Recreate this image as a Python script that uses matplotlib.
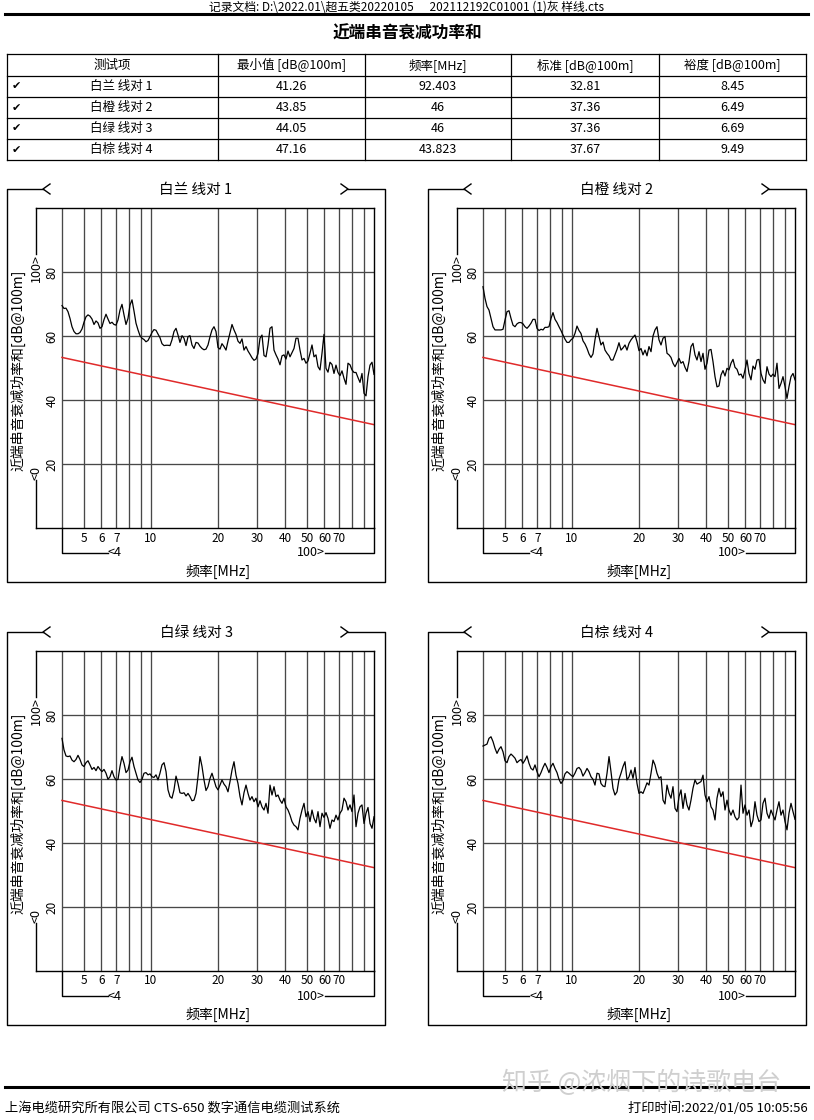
import numpy as np
import matplotlib.pyplot as plt
from matplotlib.transforms import blended_transform_factory

plt.rcParams['font.family'] = ['Noto Sans CJK SC', 'DejaVu Sans']

W, H = 814, 1120

# sweep frequencies [MHz], same for all pairs
freq = [4.000, 4.083, 4.168, 4.255, 4.344, 4.435, 4.527, 4.622, 4.718, 4.816,
        4.917, 5.019, 5.124, 5.231, 5.340, 5.451, 5.565, 5.681, 5.799, 5.920,
        6.043, 6.169, 6.298, 6.429, 6.563, 6.700, 6.840, 6.982, 7.128, 7.277,
        7.428, 7.583, 7.741, 7.903, 8.068, 8.236, 8.407, 8.583, 8.762, 8.944,
        9.131, 9.321, 9.515, 9.714, 9.916, 10.12, 10.33, 10.55, 10.77, 10.99,
        11.22, 11.46, 11.70, 11.94, 12.19, 12.44, 12.70, 12.97, 13.24, 13.51,
        13.80, 14.08, 14.38, 14.68, 14.98, 15.29, 15.61, 15.94, 16.27, 16.61,
        16.96, 17.31, 17.67, 18.04, 18.42, 18.80, 19.19, 19.59, 20.00, 20.42,
        20.84, 21.28, 21.72, 22.17, 22.64, 23.11, 23.59, 24.08, 24.58, 25.10,
        25.62, 26.15, 26.70, 27.26, 27.82, 28.40, 29.00, 29.60, 30.22, 30.85,
        31.49, 32.15, 32.82, 33.50, 34.20, 34.91, 35.64, 36.38, 37.14, 37.92,
        38.71, 39.51, 40.34, 41.18, 42.04, 42.91, 43.81, 44.72, 45.65, 46.60,
        47.58, 48.57, 49.58, 50.61, 51.67, 52.75, 53.85, 54.97, 56.12, 57.29,
        58.48, 59.70, 60.94, 62.21, 63.51, 64.83, 66.18, 67.56, 68.97, 70.41,
        71.88, 73.38, 74.91, 76.47, 78.06, 79.69, 81.35, 83.05, 84.78, 86.55,
        88.35, 90.20, 92.08, 94.00, 95.96, 97.96, 100.0]

# PSNEXT [dB@100m]
pair1 = [69.5, 68.6, 68.7, 67.6, 65.5, 62.9, 61.4, 60.7, 60.7, 61.1,
         62.2, 64.3, 66.0, 66.6, 66.2, 65.3, 63.6, 64.7, 64.1, 62.4,
         62.9, 65.1, 66.8, 65.3, 63.9, 64.3, 63.6, 63.4, 65.0, 68.1,
         69.9, 66.6, 63.6, 65.5, 69.7, 71.3, 67.8, 64.0, 61.9, 60.1,
         59.3, 58.9, 58.2, 58.6, 59.8, 61.1, 62.0, 61.8, 60.6, 59.5,
         57.6, 57.0, 57.1, 57.1, 57.0, 58.8, 61.4, 62.4, 60.3, 58.0,
         60.1, 59.3, 57.0, 59.8, 60.1, 57.2, 56.1, 58.0, 57.8, 56.8,
         56.1, 55.7, 55.9, 57.2, 59.8, 61.9, 62.9, 61.4, 56.4, 55.9,
         57.6, 56.7, 55.6, 58.4, 61.1, 63.6, 61.9, 60.5, 58.4, 57.7,
         59.1, 55.6, 56.7, 55.3, 54.3, 53.2, 52.4, 52.8, 54.5, 59.3,
         60.3, 53.9, 53.5, 57.2, 62.4, 62.9, 55.6, 54.1, 52.8, 51.0,
         53.8, 54.1, 52.8, 55.3, 53.5, 54.8, 56.1, 59.3, 59.3, 55.6,
         52.5, 53.0, 51.5, 52.2, 54.6, 57.2, 53.5, 54.1, 50.4, 49.4,
         54.6, 60.5, 49.9, 48.7, 51.8, 51.1, 48.3, 50.9, 48.6, 47.6,
         49.1, 46.8, 44.9, 51.5, 51.0, 49.4, 48.6, 48.6, 47.0, 45.5,
         48.3, 42.1, 41.3, 47.3, 50.9, 51.8, 48.0]

pair2 = [75.4, 71.8, 69.2, 68.1, 65.5, 62.9, 61.9, 61.9, 61.9, 61.9,
         62.1, 65.0, 67.6, 67.9, 65.5, 63.4, 62.9, 63.8, 64.2, 64.2,
         63.8, 62.9, 62.4, 63.1, 64.0, 65.2, 65.2, 62.4, 61.7, 62.1,
         61.9, 62.7, 62.7, 62.9, 65.5, 67.3, 65.2, 64.2, 62.9, 61.7,
         60.3, 59.0, 58.0, 58.0, 58.8, 59.3, 60.8, 63.1, 61.7, 60.8,
         58.5, 57.5, 56.1, 54.4, 53.3, 54.4, 58.8, 62.4, 59.8, 57.2,
         58.1, 55.6, 54.6, 53.8, 52.5, 52.5, 54.1, 55.8, 57.9, 55.6,
         56.3, 57.2, 55.6, 57.7, 58.8, 59.6, 60.3, 58.2, 55.4, 56.1,
         54.1, 55.6, 53.8, 56.7, 55.1, 60.0, 61.9, 62.9, 58.8, 57.2,
         59.3, 59.8, 54.6, 54.1, 53.3, 51.5, 50.4, 51.7, 53.0, 51.5,
         52.0, 50.2, 48.9, 52.0, 56.7, 57.7, 54.1, 52.5, 55.1, 52.0,
         54.6, 49.6, 51.5, 55.6, 55.8, 52.0, 47.3, 44.1, 44.4, 47.8,
         49.2, 47.5, 49.9, 49.4, 51.5, 52.7, 50.2, 49.6, 47.8, 48.1,
         46.8, 49.4, 52.5, 48.3, 46.3, 50.6, 49.6, 52.5, 52.7, 48.3,
         46.3, 45.2, 50.4, 48.1, 47.3, 48.1, 47.3, 51.5, 43.6, 45.2,
         47.3, 44.2, 40.5, 44.2, 47.3, 48.3, 46.3]

pair3 = [72.7, 69.1, 67.2, 67.0, 67.2, 65.9, 65.4, 66.1, 67.4, 66.1,
         64.4, 63.9, 65.1, 65.7, 64.4, 63.0, 63.6, 62.6, 63.9, 63.0,
         62.3, 63.0, 61.8, 59.9, 60.7, 62.6, 60.7, 59.7, 59.9, 63.9,
         67.0, 64.9, 62.0, 62.8, 65.4, 66.8, 63.9, 61.8, 59.7, 58.9,
         59.9, 61.8, 62.0, 61.3, 61.6, 60.7, 60.5, 61.3, 59.7, 61.8,
         64.4, 65.1, 62.3, 56.6, 54.5, 54.0, 56.6, 60.9, 58.6, 55.7,
         55.5, 55.7, 54.7, 55.5, 54.5, 53.2, 53.4, 55.5, 60.7, 67.0,
         63.9, 59.7, 56.4, 57.6, 60.2, 61.8, 59.7, 57.6, 56.6, 58.1,
         59.7, 58.4, 57.6, 56.0, 59.2, 62.8, 65.4, 61.2, 58.6, 54.5,
         51.9, 55.7, 58.1, 55.5, 53.4, 54.5, 52.9, 54.0, 51.3, 53.2,
         51.3, 50.3, 52.4, 49.3, 58.1, 55.0, 57.6, 54.5, 55.0, 53.4,
         52.4, 54.0, 51.3, 50.3, 48.7, 46.7, 45.6, 45.1, 44.1, 47.7,
         50.3, 52.4, 48.2, 49.8, 46.7, 50.3, 47.7, 46.3, 49.8, 45.1,
         49.3, 48.0, 49.5, 47.7, 44.6, 47.2, 46.7, 48.7, 47.2, 49.3,
         50.3, 54.0, 52.9, 50.3, 51.9, 49.8, 55.0, 45.1, 49.3, 51.3,
         51.9, 46.1, 49.3, 51.1, 46.1, 44.6, 48.2]

pair4 = [70.3, 70.6, 70.9, 72.7, 73.2, 71.7, 69.6, 68.0, 69.3, 70.1,
         68.5, 65.7, 65.1, 67.0, 67.8, 67.2, 66.5, 65.1, 65.7, 66.1,
         64.9, 65.9, 67.2, 64.9, 63.3, 62.8, 64.4, 62.3, 60.7, 62.0,
         63.6, 64.9, 63.6, 62.0, 63.9, 64.9, 63.3, 62.0, 59.9, 58.6,
         59.5, 61.6, 62.3, 61.8, 61.2, 60.7, 61.8, 63.3, 63.6, 62.8,
         60.9, 62.0, 63.3, 62.3, 60.7, 59.9, 58.1, 61.8, 61.6, 58.6,
         57.8, 57.6, 61.8, 67.0, 62.3, 57.1, 55.0, 56.0, 59.9, 61.8,
         63.9, 65.4, 59.7, 60.7, 62.8, 60.2, 63.6, 58.6, 55.5, 56.0,
         55.5, 57.1, 58.8, 58.1, 61.8, 65.9, 64.4, 61.8, 60.2, 60.7,
         53.4, 52.2, 58.1, 55.5, 54.0, 57.6, 50.8, 49.8, 54.5, 56.6,
         50.8, 55.5, 51.9, 50.3, 53.4, 57.1, 59.7, 58.4, 58.8, 59.2,
         61.2, 55.0, 52.9, 54.5, 51.3, 50.3, 47.2, 54.0, 57.1, 54.5,
         56.0, 50.3, 53.4, 50.3, 48.7, 50.3, 48.2, 47.2, 48.0, 58.1,
         49.3, 51.9, 48.7, 50.3, 45.1, 47.2, 52.9, 48.7, 46.7, 47.2,
         52.4, 54.0, 49.3, 47.7, 50.3, 48.7, 47.2, 50.3, 52.9, 48.7,
         50.3, 46.7, 44.1, 49.3, 52.4, 49.8, 47.4]

# limit line (standard)
limit_freq = [4, 100]
limit_db = [53.3, 32.3]

pair_names = ['白兰 线对 1', '白橙 线对 2', '白绿 线对 3', '白棕 线对 4']
headers = ['测试项', '最小值 [dB@100m]', '频率[MHz]', '标准 [dB@100m]', '裕度 [dB@100m]']
min_val = ['41.26', '43.85', '44.05', '47.16']
min_freq = ['92.403', '46', '46', '43.823']
std_val = ['32.81', '37.36', '37.36', '37.67']
margin = ['8.45', '6.49', '6.69', '9.49']

xtick_vals = [5, 6, 7, 10, 20, 30, 40, 50, 60, 70]
ytick_vals = [20, 40, 60, 80]
vgrid = [4, 5, 6, 7, 8, 9, 10, 20, 30, 40, 50, 60, 70, 80, 90]

fig = plt.figure(figsize=(W / 100, H / 100), dpi=100)
bg = fig.add_axes([0, 0, 1, 1])
bg.set_xlim(0, W)
bg.set_ylim(H, 0)
bg.axis('off')

# header
bg.text(407, 0.5, '记录文档: D:\\2022.01\\超五类20220105      202112192C01001 (1)灰 样线.cts',
        ha='center', va='top', fontsize=8.5)
bg.plot([5, 808], [14, 14], color='black', lw=2.2)
bg.text(407, 34, '近端串音衰减功率和', ha='center', va='center', fontsize=12, fontweight='bold')

# table
col_x = [7, 218, 365, 511, 659, 806]
row_y = [54, 76, 97, 118, 139, 160]
for y in row_y:
    bg.plot([7, 806], [y, y], color='black', lw=0.9)
for x in col_x:
    bg.plot([x, x], [54, 160], color='black', lw=0.9)
centers = [(col_x[i] + col_x[i + 1]) / 2 for i in range(5)]
for i, h in enumerate(headers):
    bg.text(centers[i], 65, h, ha='center', va='center', fontsize=9)
for r in range(4):
    yc = (row_y[r + 1] + row_y[r + 2]) / 2
    bg.text(16, yc, '✔', ha='center', va='center', fontsize=8, family='DejaVu Sans')
    bg.text(121, yc, pair_names[r], ha='center', va='center', fontsize=9)
    for i, v in enumerate([min_val[r], min_freq[r], std_val[r], margin[r]]):
        bg.text(centers[i + 1], yc, v, ha='center', va='center', fontsize=9)


def panel(ox, oy, title, values):
    L, R, T, B = 7 + ox, 385 + ox, 189 + oy, 582 + oy
    bg.plot([43 + ox, L, L, R, R, 348 + ox], [T, T, B, B, T, T], color='black', lw=1.0)
    bg.plot([50 + ox, 43 + ox, 50 + ox], [T - 5, T, T + 5], color='black', lw=1.0)
    bg.plot([341 + ox, 348 + ox, 341 + ox], [T - 5, T, T + 5], color='black', lw=1.0)
    bg.text((L + R) / 2, T + 1, title, ha='center', va='center', fontsize=10.5)

    al, ar, at, ab = 36 + ox, 374 + ox, 208 + oy, 528 + oy
    ax = fig.add_axes([al / W, 1 - ab / H, (ar - al) / W, (ab - at) / H])
    ax.set_xscale('log')
    xmin = 4 / (100 / 4) ** (26 / 312)
    ax.set_xlim(xmin, 100)
    ax.set_ylim(0, 100)
    ax.set_xticks([])
    ax.set_yticks([])
    ax.minorticks_off()
    ax.spines['left'].set_visible(False)
    for s in ['top', 'bottom', 'right']:
        ax.spines[s].set_linewidth(1.0)
    ax.patch.set_alpha(0)

    ax.vlines(vgrid, 0, 100, color='#484848', lw=0.95)
    ax.hlines(ytick_vals, 4, 100, color='#484848', lw=0.95)
    ax.plot(limit_freq, limit_db, color='#e02a2a', lw=1.1)
    ax.plot(freq, values, color='black', lw=0.9)

    pw, ph = ar - al, ab - at
    xb = blended_transform_factory(ax.transData, ax.transAxes)
    yb = blended_transform_factory(ax.transAxes, ax.transData)
    for v in xtick_vals:
        ax.text(v, -10 / ph, str(v), transform=xb, ha='center', va='center', fontsize=8.5)
    for v in ytick_vals:
        ax.text(16 / pw, v, str(v), transform=yb, rotation=90, ha='center', va='center', fontsize=8.5)

    # range marks on the left
    ax.plot([0, 0], [1, 274 / ph], transform=ax.transAxes, color='black', lw=1.0, clip_on=False)
    ax.text(0, 274 / ph, '100>', transform=ax.transAxes, rotation=90, ha='center', va='top', fontsize=9)
    ax.plot([0, 0], [48 / ph, 0], transform=ax.transAxes, color='black', lw=1.0, clip_on=False)
    ax.text(0, 48 / ph, '<0', transform=ax.transAxes, rotation=90, ha='center', va='bottom', fontsize=9)

    # range marks at the bottom
    x4 = 26 / pw
    yb_ = -25 / ph
    ax.plot([x4, x4, 72 / pw], [0, yb_, yb_], transform=ax.transAxes, color='black', lw=1.0, clip_on=False)
    ax.text(72 / pw, yb_, '<4', transform=ax.transAxes, ha='left', va='center', fontsize=9)
    ax.plot([1, 1, 289 / pw], [0, yb_, yb_], transform=ax.transAxes, color='black', lw=1.0, clip_on=False)
    ax.text(289 / pw, yb_, '100>', transform=ax.transAxes, ha='right', va='center', fontsize=9)

    ax.text(-18 / pw, 158 / ph, '近端串音衰减功率和[dB@100m]', transform=ax.transAxes,
            rotation=90, ha='center', va='center', fontsize=10)
    ax.text(182 / pw, -43 / ph, '频率[MHz]', transform=ax.transAxes, ha='center', va='center', fontsize=10)


panel(0, 0, pair_names[0], pair1)
panel(421, 0, pair_names[1], pair2)
panel(0, 443, pair_names[2], pair3)
panel(421, 443, pair_names[3], pair4)

# footer
bg.plot([5, 808], [1087, 1087], color='black', lw=2.2)
bg.text(642, 1083, '知乎 @浓烟下的诗歌电台', ha='center', va='center', fontsize=18,
        color='#cfcfcf', zorder=5)
bg.text(5, 1108, '上海电缆研究所有限公司 CTS-650 数字通信电缆测试系统', ha='left', va='center', fontsize=9.5)
bg.text(808, 1108, '打印时间:2022/01/05 10:05:56', ha='right', va='center', fontsize=9.5)

fig.savefig('out.png', dpi=100)
